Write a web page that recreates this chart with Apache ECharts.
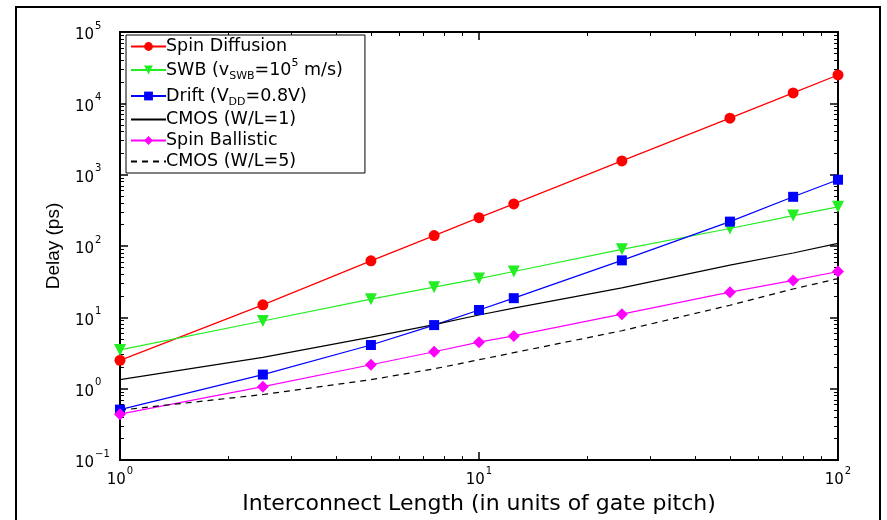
<!DOCTYPE html>
<html>
<head>
<meta charset="utf-8">
<script src="https://cdn.jsdelivr.net/npm/echarts@6/dist/echarts.min.js"></script>
<style>
  html, body { margin: 0; padding: 0; background: #fff; }
  #chart { width: 887px; height: 520px; }
</style>
</head>
<body>
<div id="chart"></div>
<script>
// interconnect length (gate pitch)
var lengths = [1, 2.5, 5, 7.5, 10, 12.5, 25, 50, 75, 100]

// delay (ps)
var spinDiffusion = [2.5, 15, 62, 140, 250, 390, 1560, 6200, 14000, 25000]
var swb = [3.5, 8.9, 18, 26.5, 35, 44, 90, 176, 267, 355]
var drift = [0.51, 1.58, 4.1, 7.8, 12.7, 18.6, 63, 220, 490, 850]
var cmos1 = [1.34, 2.75, 5.3, 7.9, 10.8, 13.5, 26, 54, 80, 109]
var spinBallistic = [0.44, 1.07, 2.17, 3.3, 4.5, 5.5, 11.1, 22.6, 33, 44]
var cmos5 = [0.5, 0.83, 1.34, 1.9, 2.55, 3.2, 6.5, 14.8, 25, 35]

var xMajor = [1, 10, 100]
var yMajor = [0.1, 1, 10, 100, 1000, 10000, 100000]

function pairs(ys) {
  return lengths.map(function (x, i) { return [x, ys[i]] })
}

// minor tick positions for log axes (2..9 in each decade)
function minorTicks(lo, hi) {
  var out = []
  for (var d = lo; d < hi; d *= 10) {
    for (var k = 2; k <= 9; k++) out.push(+(k * d).toPrecision(3))
  }
  return out
}

var FONT = 'DejaVu Sans, Liberation Sans, sans-serif'

function powLabel(v) {
  var e = Math.round(Math.log(v) / Math.LN10)
  var s = e < 0 ? '\u2212' + (-e) : '' + e
  return '{b|10}{s|' + s + '}'
}

var powRich = {
  b: { fontSize: 15, fontFamily: FONT, color: '#000', verticalAlign: 'bottom', lineHeight: 22 },
  s: { fontSize: 10, fontFamily: FONT, color: '#000', verticalAlign: 'top', lineHeight: 22, padding: [0, 0, 0, 1] }
}

function baseAxis(extra) {
  var a = {
    type: 'log',
    logBase: 10,
    axisLine: { show: true, onZero: false, lineStyle: { color: '#000', width: 2 } },
    axisTick: { show: true, inside: true, length: 8, lineStyle: { color: '#000', width: 1.5 } },
    axisLabel: { show: false },
    splitLine: { show: false },
    minorTick: { show: false },
    minorSplitLine: { show: false }
  }
  return Object.assign(a, extra)
}

function minorAxis(pos, lo, hi, extra) {
  return Object.assign(baseAxis({
    position: pos,
    min: lo,
    max: hi,
    axisLine: { show: false },
    axisTick: { show: true, inside: true, length: 4, customValues: minorTicks(lo, hi), lineStyle: { color: '#000', width: 1 } }
  }), extra || {})
}

var chart = echarts.init(document.getElementById('chart'))

chart.setOption({
  backgroundColor: '#fff',
  animation: false,
  textStyle: { fontFamily: FONT },
  grid: { left: 120, top: 32, right: 49, bottom: 57, show: true, borderColor: '#000', borderWidth: 1.5, backgroundColor: 'transparent' },
  graphic: [{
    type: 'rect',
    shape: { x: 16, y: 7, width: 864, height: 530 },
    style: { fill: 'none', stroke: '#000', lineWidth: 2 },
    silent: true
  }],
  legend: {
    orient: 'vertical',
    left: 126,
    top: 35,
    padding: [2, 22, 2, 4],
    itemWidth: 35,
    itemHeight: 11,
    itemGap: 2,
    backgroundColor: '#fff',
    borderColor: '#000',
    borderWidth: 1,
    borderRadius: 0,
    textStyle: {
      fontFamily: FONT,
      fontSize: 17.5,
      lineHeight: 19,
      color: '#000',
      padding: [0, 0, 0, -5],
      rich: {
        t: { fontSize: 17.5, fontFamily: FONT, color: '#000', lineHeight: 24 },
        sub: { fontSize: 11, fontFamily: FONT, color: '#000', verticalAlign: 'bottom', lineHeight: 24 },
        sup: { fontSize: 11, fontFamily: FONT, color: '#000', verticalAlign: 'top', lineHeight: 24 }
      }
    },
    formatter: function (name) {
      if (name === 'SWB') return '{t|SWB (v}{sub|SWB}{t|=10}{sup|5}{t| m/s)}'
      if (name === 'Drift') return '{t|Drift (V}{sub|DD}{t|=0.8V)}'
      return name
    },
    data: [
      'Spin Diffusion', 'SWB', 'Drift',
      { name: 'CMOS (W/L=1)', itemStyle: { opacity: 0 } },
      'Spin Ballistic',
      { name: 'CMOS (W/L=5)', itemStyle: { opacity: 0 } }
    ]
  },
  xAxis: [
    baseAxis({
      position: 'bottom',
      min: 1,
      max: 100,
      axisTick: { show: true, inside: true, length: 8, customValues: xMajor, lineStyle: { color: '#000', width: 1.5 } },
      axisLabel: { show: true, customValues: xMajor, formatter: powLabel, rich: powRich, margin: 6 },
      name: 'Interconnect Length (in units of gate pitch)',
      nameLocation: 'middle',
      nameGap: 28,
      nameTextStyle: { fontSize: 22, fontFamily: FONT, color: '#000' }
    }),
    minorAxis('bottom', 1, 100),
    baseAxis({
      position: 'top',
      min: 1,
      max: 100,
      axisTick: { show: true, inside: true, length: 8, customValues: xMajor, lineStyle: { color: '#000', width: 1.5 } }
    }),
    minorAxis('top', 1, 100)
  ],
  yAxis: [
    baseAxis({
      position: 'left',
      min: 0.1,
      max: 100000,
      axisTick: { show: true, inside: true, length: 8, customValues: yMajor, lineStyle: { color: '#000', width: 1.5 } },
      axisLabel: { show: true, customValues: yMajor, formatter: powLabel, rich: powRich, margin: 45, align: 'left' },
      name: 'Delay (ps)',
      nameLocation: 'middle',
      nameRotate: 90,
      nameGap: 57,
      nameTextStyle: { fontSize: 19, fontFamily: 'Liberation Sans, Arial, sans-serif', color: '#000' }
    }),
    minorAxis('left', 0.1, 100000),
    baseAxis({
      position: 'right',
      min: 0.1,
      max: 100000,
      axisTick: { show: true, inside: true, length: 8, customValues: yMajor, lineStyle: { color: '#000', width: 1.5 } }
    }),
    minorAxis('right', 0.1, 100000)
  ],
  series: [
    {
      name: 'Spin Diffusion',
      type: 'line',
      data: pairs(spinDiffusion),
      symbol: 'circle',
      symbolSize: 11,
      itemStyle: { color: '#ff0000' },
      lineStyle: { color: '#ff0000', width: 1.2 }
    },
    {
      name: 'SWB',
      type: 'line',
      data: pairs(swb),
      symbol: 'triangle',
      symbolRotate: 180,
      symbolSize: 12,
      itemStyle: { color: '#22ee22' },
      lineStyle: { color: '#22ee22', width: 1.2 }
    },
    {
      name: 'Drift',
      type: 'line',
      data: pairs(drift),
      symbol: 'rect',
      symbolSize: 10,
      itemStyle: { color: '#0000ff' },
      lineStyle: { color: '#0000ff', width: 1.2 }
    },
    {
      name: 'CMOS (W/L=1)',
      type: 'line',
      data: pairs(cmos1),
      symbol: 'none',
      itemStyle: { color: '#000' },
      lineStyle: { color: '#000', width: 1.2 }
    },
    {
      name: 'Spin Ballistic',
      type: 'line',
      data: pairs(spinBallistic),
      symbol: 'diamond',
      symbolSize: 12,
      itemStyle: { color: '#ff00ff' },
      lineStyle: { color: '#ff00ff', width: 1.2 }
    },
    {
      name: 'CMOS (W/L=5)',
      type: 'line',
      data: pairs(cmos5),
      symbol: 'none',
      itemStyle: { color: '#000' },
      lineStyle: { color: '#000', width: 1.2, type: [6, 5] }
    }
  ]
})
</script>
</body>
</html>
